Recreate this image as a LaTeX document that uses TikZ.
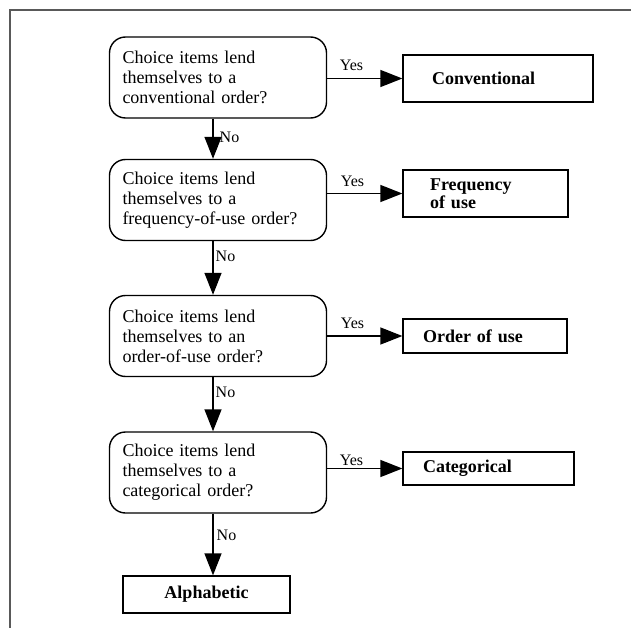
\documentclass[tikz,border=0pt]{standalone}
\usepackage{fontspec}
\setmainfont{Liberation Serif}
\usetikzlibrary{arrows.meta,calc}
\begin{document}
\begin{tikzpicture}[x=1pt,y=1pt,
  decision/.style={draw, line width=1.4pt, rounded corners=16pt, minimum width=217pt, minimum height=81pt,
     text width=191pt, inner xsep=13pt, align=left, font=\fontsize{18}{20}\selectfont},
  result/.style={draw, line width=1.3pt, inner xsep=0pt, font=\bfseries\fontsize{18}{18}\selectfont},
  lbl/.style={font=\fontsize{16}{16}\selectfont, inner sep=1.5pt},
  arr/.style={line width=1.4pt, -{Triangle[length=22pt,width=17pt]}},
  frame/.style={line width=1.2pt, draw=black!65}]
\useasboundingbox (0,0) rectangle (631,-628);
\draw[frame] (10,-628) -- (10,-10) -- (631,-10);

\node[decision] (d1) at (218,-77.5) {Choice items lend\\themselves to a\\conventional order?};
\node[decision] (d2) at (218,-200) {Choice items lend\\themselves to a\\frequency-of-use order?};
\node[decision] (d3) at (218,-336) {Choice items lend\\themselves to an\\order-of-use order?};
\node[decision] (d4) at (218,-472.5) {Choice items lend\\themselves to a\\categorical order?};

\node[result, minimum width=190pt, minimum height=47pt, text width=132pt, align=left] (r1) at (498,-78.5) {Conventional};
\node[result, minimum width=165pt, minimum height=47pt, text width=111pt, align=left] (r2) at (485.5,-193.5) {Frequency\\of use};
\node[result, minimum width=164pt, minimum height=34pt, text width=124pt, align=left] (r3) at (485,-336) {Order of use};
\node[result, minimum width=171pt, minimum height=33pt, text width=131pt, align=left] (r4) at (488.5,-468.5) {Categorical};
\node[result, minimum width=167pt, minimum height=37pt, text width=167pt, align=center] (r5) at (206.5,-594.5) {Alphabetic};

% Yes arrows
\draw[arr] (r1.west -| d1.east) -- (r1.west);
\draw[arr] (r2.west -| d2.east) -- (r2.west);
\draw[arr] (r3.west -| d3.east) -- (r3.west);
\draw[arr] (r4.west -| d4.east) -- (r4.west);
\node[lbl, anchor=south west] (y1) at ($(r1.west -| d1.east)+(11,6)$) {Yes};
\node[lbl, anchor=south west] (y2) at ($(r2.west -| d2.east)+(12,5)$) {Yes};
\node[lbl, anchor=south west] (y3) at ($(r3.west -| d3.east)+(12,6)$) {Yes};
\node[lbl, anchor=south west] (y4) at ($(r4.west -| d4.east)+(11,1)$) {Yes};

% No arrows
\draw[arr] ([xshift=-5pt]d1.south) -- ([xshift=-5pt]d2.north);
\draw[arr] ([xshift=-5pt]d2.south) -- ([xshift=-5pt]d3.north);
\draw[arr] ([xshift=-5pt]d3.south) -- ([xshift=-5pt]d4.north);
\draw[arr] ([xshift=-5pt]d4.south) -- ([xshift=-5pt]d4.south |- r5.north);
\node[lbl, anchor=west] (n1) at (218,-137) {No};
\node[lbl, anchor=west] (n2) at (214,-256) {No};
\node[lbl, anchor=west] (n3) at (214,-392) {No};
\node[lbl, anchor=west] (n4) at (215,-535) {No};
\end{tikzpicture}
\end{document}
